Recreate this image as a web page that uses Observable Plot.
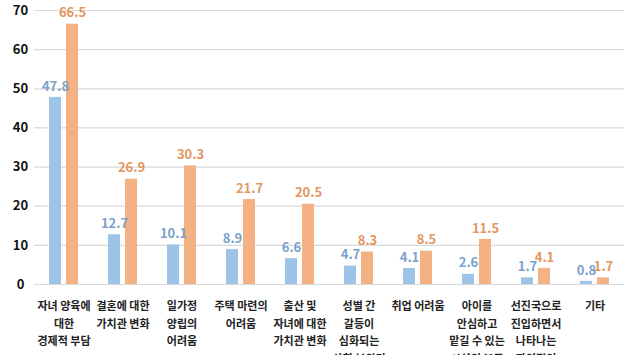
<!DOCTYPE html>
<html><head><meta charset="utf-8">
<script src="https://cdn.jsdelivr.net/npm/d3@7"></script>
<script src="https://cdn.jsdelivr.net/npm/@observablehq/plot@0.6"></script>
<style>
html,body{margin:0;padding:0;background:#fff;overflow:hidden;}
svg{overflow:visible;}
</style>
</head><body>
<div id="chart"></div>
<script>
const categories = [
  "자녀 양육에\n대한\n경제적 부담",
  "결혼에 대한\n가치관 변화",
  "일가정\n양립의\n어려움",
  "주택 마련의\n어려움",
  "출산 및\n자녀에 대한\n가치관 변화",
  "성별 간\n갈등이\n심화되는\n사회 분위기",
  "취업 어려움",
  "아이를\n안심하고\n맡길 수 있는\n시설의 부족",
  "선진국으로\n진입하면서\n나타나는\n자연적인\n현상",
  "기타"
];
const series = ["계열1", "계열2"];
const blueValues = [47.8, 12.7, 10.1, 8.9, 6.6, 4.7, 4.1, 2.6, 1.7, 0.8];
const orangeValues = [66.5, 26.9, 30.3, 21.7, 20.5, 8.3, 8.5, 11.5, 4.1, 1.7];
const yTicks = [0, 10, 20, 30, 40, 50, 60, 70];
const barColors = ["#9DC3E6", "#F4B183"];
const labelColors = ["#7AA2CB", "#E3965F"];

const data = categories.flatMap((c, i) => [
  {cat: c, s: series[0], v: blueValues[i], lc: labelColors[0]},
  {cat: c, s: series[1], v: orangeValues[i], lc: labelColors[1]}
]);

const font = "'Noto Sans CJK KR', 'Noto Sans', sans-serif";

const chart = Plot.plot({
  width: 627,
  height: 355,
  marginTop: 10,
  marginBottom: 71,
  marginLeft: 30,
  marginRight: 0,
  style: {fontFamily: font, background: "#fff"},
  fx: {domain: categories, padding: 0, axis: null},
  x: {domain: series, paddingInner: 0.27, paddingOuter: 0.8, axis: null},
  y: {domain: [0, 70], axis: null},
  color: {domain: series, range: barColors},
  marks: [
    Plot.gridY(yTicks, {stroke: "#d9d9d9", strokeOpacity: 1, strokeWidth: 1.2}),
    Plot.axisY(yTicks, {tickSize: 0, tickPadding: 14, textAnchor: "middle", fontSize: 13, fontWeight: "bold", fill: "#111", label: null}),
    Plot.barY(data, {fx: "cat", x: "s", y: "v", fill: "s"}),
    Plot.text(data, {fx: "cat", x: "s", y: "v", text: d => d.v.toFixed(1), fill: "lc", dy: -11, fontSize: 13, fontWeight: "bold"}),
    Plot.axisFx({anchor: "bottom", tickSize: 0, tickPadding: 13, fontSize: 11, fontWeight: "bold", fill: "#222", lineHeight: 1.6, label: null, tickFormat: d => d})
  ]
});
document.getElementById("chart").appendChild(chart);
</script>
</body></html>
